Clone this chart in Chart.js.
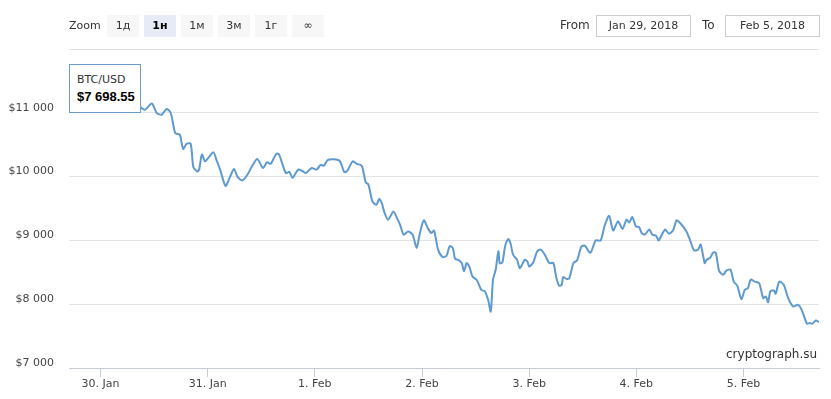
<!DOCTYPE html>
<html>
<head>
<meta charset="utf-8">
<script src="https://cdn.jsdelivr.net/npm/chart.js@4/dist/chart.umd.min.js"></script>
<style>
  body { margin: 0; background: #fff; font-family: "DejaVu Sans", sans-serif; }
  #wrap { position: relative; width: 831px; height: 399px; }
  #c { position: absolute; left: 0; top: 0; }
  .abs { position: absolute; font-size: 11px; color: #333; }
  .btn { position: absolute; top: 15px; width: 32px; height: 22px; line-height: 22px; text-align: center;
         background: #f7f7f7; font-size: 11px; color: #333; }
  .btn.on { background: #e6ebf5; font-weight: bold; color: #000; }
  .inp { position: absolute; top: 15px; height: 20px; line-height: 20px; border: 1px solid #ccc;
         text-align: center; font-size: 11px; color: #333; }
  #tip { position: absolute; left: 69px; top: 64px; width: 70px; height: 47px; background: #fff;
         border: 1px solid #6a9ccd; font-size: 11px; color: #333; }
</style>
</head>
<body>
<div id="wrap">
  <canvas id="c" width="831" height="399"></canvas>
  <div class="abs" style="left:69px; top:19px;">Zoom</div>
  <div class="btn" style="left:107px;">1д</div>
  <div class="btn on" style="left:144px;">1н</div>
  <div class="btn" style="left:181px;">1м</div>
  <div class="btn" style="left:218px;">3м</div>
  <div class="btn" style="left:255px;">1г</div>
  <div class="btn" style="left:292px;">∞</div>
  <div class="abs" style="left:560px; top:18px; font-size:12px;">From</div>
  <div class="inp" style="left:596px; width:93px;">Jan 29, 2018</div>
  <div class="abs" style="left:702px; top:18px; font-size:12px;">To</div>
  <div class="inp" style="left:725px; width:93px;">Feb 5, 2018</div>
  <div id="tip">
    <div style="position:absolute; left:7px; top:8px;">BTC/USD</div>
    <div style="position:absolute; left:7px; top:24px; font-family:'Liberation Sans', sans-serif; font-size:13px; font-weight:bold; color:#000;">$7 698.55</div>
  </div>
  <div class="abs" style="left:726px; top:347px; font-size:12px;">cryptograph.su</div>
</div>
<script>
// hours since Jan 29, 2018 00:00
var hours = [17.0, 19.4, 22.1, 25.0, 27.9, 30.6, 33.2, 34.0, 35.5, 36.6, 37.7, 38.8, 39.7, 40.7, 41.2, 41.8,
  42.5, 43.3, 44.2, 44.8, 45.7, 46.1, 46.7, 47.4, 48.1, 49.3, 50.0, 50.8, 52.0, 53.0, 53.9, 54.7, 55.8, 56.9,
  58.0, 59.1, 60.4, 61.3, 62.1, 63.4, 64.0, 65.5, 66.3, 67.0, 68.3, 69.4, 70.0, 71.3, 72.4, 73.3, 74.0, 75.0,
  77.5, 78.6, 79.3, 80.5, 81.4, 82.5, 83.4, 84.0, 84.9, 85.8, 86.4, 87.0, 87.5, 88.4, 89.6, 90.3, 91.1, 91.9,
  92.9, 93.9, 94.8, 95.5, 96.4, 97.4, 98.1, 98.7, 99.6, 100.6, 101.5, 102.2, 102.9, 103.4, 104.1, 104.9, 105.4,
  106.0, 106.6, 107.3, 108.2, 108.6, 109.3, 110.1, 110.8, 111.4, 111.9, 112.5, 113.1, 113.4, 114.0, 114.6,
  115.3, 115.8, 116.4, 117.3, 117.9, 119.0, 119.6, 120.0, 120.9, 121.8, 122.6, 123.5, 124.5, 125.4, 126.1,
  126.7, 127.3, 127.6, 128.4, 129.0, 129.9, 130.7, 131.7, 132.5, 133.7, 134.9, 136.0, 136.9, 137.9, 138.8,
  139.9, 140.9, 141.8, 142.4, 143.1, 143.9, 144.6, 145.2, 145.9, 146.9, 147.6, 148.4, 149.0, 150.4, 151.3,
  152.2, 153.0, 153.7, 155.1, 156.0, 156.9, 157.8, 158.4, 159.3, 159.7, 160.5, 161.2, 161.8, 162.5, 163.4,
  164.2, 165.1, 165.8, 166.6, 167.5, 168.3, 169.0, 169.6, 170.5, 171.5, 172.4, 173.0, 173.5, 174.0, 174.8,
  175.2, 176.0, 177.0, 178.0, 179.1, 180.2, 181.0, 182.2, 182.8, 183.4, 184.2, 184.9];

var prices = [11145, 11205, 11110, 11235, 11175, 11250, 11075, 11050, 11145, 10995, 10970, 11060, 11005, 10685, 10670, 10655,
  10435, 10515, 10515, 10150, 10080, 10110, 10345, 10240, 10290, 10380, 10255, 10110, 9855, 9995, 10120, 9995, 9940, 10030,
  10170, 10275, 10135, 10225, 10200, 10360, 10345, 10055, 10075, 9980, 10110, 10080, 10055, 10135, 10110, 10185, 10170, 10265,
  10250, 10070, 10095, 10240, 10200, 10170, 9910, 9875, 9610, 9560, 9650, 9585, 9455, 9325, 9455, 9365, 9245, 9090,
  9140, 9090, 8880, 9105, 9315, 9180, 9115, 9155, 8855, 8740, 8760, 8910, 8880, 8710, 8695, 8645, 8515,
  8645, 8590, 8435, 8385, 8330, 8225, 8200, 8070, 7885, 8385, 8540, 8830, 8645, 8655, 8905,
  9020, 8960, 8775, 8695, 8565, 8695, 8670, 8590, 8655, 8830, 8855, 8775, 8645, 8645, 8410,
  8290, 8305, 8425, 8395, 8410, 8645, 8685, 8905, 8915, 8805, 9000, 9000, 9230, 9385, 9155,
  9300, 9180, 9325, 9280, 9365, 9220, 9210, 9115, 9090, 9170, 9090, 9075, 9000, 9170, 9105,
  9155, 9315, 9280, 9155, 9010, 8845, 8855, 8935, 8645, 8695, 8725, 8810, 8805, 8530, 8460,
  8530, 8540, 8355, 8290, 8080, 8225, 8255, 8385, 8355, 8330, 8095, 8120, 8030, 8200, 8215,
  8165, 8355, 8305, 8095, 7965, 7990, 7915, 7695, 7705, 7695, 7745, 7720];

var tickHours = [24, 48, 72, 96, 120, 144, 168];
var tickLabels = ['30. Jan', '31. Jan', '1. Feb', '2. Feb', '3. Feb', '4. Feb', '5. Feb'];

function fmtUsd(v) {
  return '$' + String(v).replace(/\B(?=(\d{3})+(?!\d))/g, ' ');
}

var points = hours.map(function (h, i) { return { x: h, y: prices[i] }; });

Chart.defaults.font.family = '"DejaVu Sans", sans-serif';
Chart.defaults.font.size = 11;
Chart.defaults.color = '#555';

var btcChart = new Chart(document.getElementById('c'), {
  type: 'line',
  data: {
    datasets: [{
      label: 'BTC/USD',
      data: points,
      borderColor: '#5e9ad0',
      borderWidth: 2,
      pointRadius: 0,
      tension: 0.25,
      fill: false
    }]
  },
  options: {
    responsive: false,
    animation: false,
    layout: { padding: { top: 49, right: 12, left: 0, bottom: 0 } },
    plugins: { legend: { display: false }, tooltip: { enabled: false } },
    scales: {
      x: {
        type: 'linear',
        min: 16.95,
        max: 184.9,
        afterFit: function (s) { s.height = 31; },
        afterBuildTicks: function (s) {
          s.ticks = tickHours.map(function (h) { return { value: h }; });
        },
        ticks: {
          padding: 1,
          color: '#444',
          autoSkip: false,
          maxRotation: 0,
          callback: function (v) {
            var i = tickHours.indexOf(v);
            return i >= 0 ? tickLabels[i] : '';
          }
        },
        grid: { drawOnChartArea: false, drawTicks: true, tickLength: 9, color: '#c6ccd4' },
        border: { display: true, color: '#c6ccd4' }
      },
      y: {
        min: 7000,
        max: 12000,
        afterFit: function (s) { s.width = 69; },
        ticks: {
          stepSize: 1000,
          padding: 15,
          labelOffset: -5,
          color: '#444',
          callback: function (v) { return v >= 12000 ? '' : fmtUsd(v); }
        },
        grid: { drawTicks: false, color: '#e3e3e3' },
        border: { display: false }
      }
    }
  }
});
</script>
</body>
</html>
